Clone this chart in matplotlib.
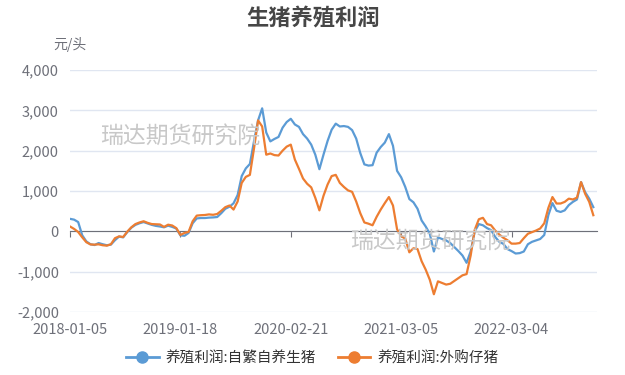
import matplotlib
matplotlib.use("Agg")
import matplotlib.pyplot as plt
from matplotlib.lines import Line2D

plt.rcParams['font.family'] = ['Noto Sans CJK SC', 'DejaVu Sans']

title = "生猪养殖利润"
unit = "元/头"
series_names = ["养殖利润:自繁自养生猪", "养殖利润:外购仔猪"]
tick_labels = ["2018-01-05", "2019-01-18", "2020-02-21", "2021-03-05", "2022-03-04"]
label_step = 27  # points (bi-weekly samples) between labels

self_bred = [310, 290, 230, -100, -250, -320, -340, -290, -320, -345,
             -330, -220, -130, -150, -20, 90, 160, 200, 230, 195,
             160, 135, 120, 100, 140, 110, 70, -100, -110, -40,
             200, 320, 330, 330, 340, 345, 355, 450, 560, 610,
             695, 900, 1370, 1560, 1670, 2230, 2750, 3050, 2450, 2230,
             2290, 2340, 2570, 2710, 2790, 2650, 2590, 2410, 2300, 2150,
             1900, 1540, 1900, 2240, 2520, 2670, 2600, 2610, 2590, 2510,
             2300, 1940, 1660, 1630, 1640, 1950, 2090, 2200, 2410, 2120,
             1500, 1340, 1100, 800, 720, 560, 270, 120, -60, -500,
             -150, -190, -225, -290, -390, -490, -600, -780, -500, 0,
             180, 150, 80, 30, -140, -260, -310, -440, -490, -550,
             -540, -500, -320, -260, -225, -190, -90, 400, 700, 510,
             480, 520, 650, 730, 790, 1220, 970, 810, 600]

purchased = [120, 60, -17, -150, -270, -325, -330, -322, -345, -355,
             -320, -170, -125, -140, -10, 100, 180, 220, 250, 210,
             180, 175, 170, 110, 165, 145, 80, -90, -40, -15,
             250, 390, 400, 405, 420, 410, 430, 510, 600, 640,
             540, 740, 1200, 1350, 1400, 2050, 2750, 2600, 1900, 1930,
             1890, 1880, 2000, 2100, 2150, 1780, 1550, 1310, 1180, 1090,
             830, 520, 880, 1160, 1370, 1400, 1200, 1100, 1015, 980,
             740, 450, 220, 190, 150, 360, 540, 700, 850, 640,
             50, -120, -180, -520, -420, -440, -740, -950, -1200, -1560,
             -1240, -1280, -1320, -1300, -1230, -1160, -1090, -1060, -600, 40,
             300, 335, 180, 150, 20, -80, -160, -220, -305, -305,
             -290, -170, -60, -20, 20, 70, 200, 580, 850, 690,
             690, 730, 810, 790, 835, 1220, 930, 730, 400]

y_ticks = [-2000, -1000, 0, 1000, 2000, 3000, 4000]

colors = ["#5b9bd5", "#ed7d31"]
axis_grey = "#6e7079"
text_grey = "#6e7079"

fig = plt.figure(figsize=(6.25, 3.75), dpi=100)
ax = fig.add_axes([70/625, 1 - 312/375, (597-70)/625, (312-70)/375])

x = list(range(len(self_bred)))
ax.plot(x, self_bred, color=colors[0], lw=1.6, zorder=3)
ax.plot(x, purchased, color=colors[1], lw=1.6, zorder=4)

ax.set_ylim(-2000, 4000)
ax.set_xlim(0, 128.9)
ax.set_yticks(y_ticks)
ax.set_yticklabels([f"{v:,}" for v in y_ticks])
ax.grid(axis='y', color="#e0e6f1", lw=1)
ax.set_axisbelow(True)

for s in ['top', 'right', 'left']:
    ax.spines[s].set_visible(False)
ax.spines['bottom'].set_position(('data', 0))
ax.spines['bottom'].set_color(axis_grey)
ax.spines['bottom'].set_zorder(2)

ticks_pos = [i * label_step for i in range(len(tick_labels))]
ax.set_xticks(ticks_pos)
ax.set_xticklabels(tick_labels)
ax.tick_params(axis='x', direction='out', length=4, color=axis_grey,
               labelsize=10.5, labelcolor=text_grey, pad=62)
ax.tick_params(axis='y', length=0, labelsize=10.5, labelcolor=text_grey, pad=8)

fig.text(313/625, 1 - 18/375, title, ha='center', va='center',
         fontsize=16, fontweight='bold', color='#464646')
fig.text(70/625, 1 - 44/375, unit, ha='center', va='center',
         fontsize=10, color=text_grey)

wm_kw = dict(fontsize=16.5, color='#c8c8c8', ha='left', va='center', zorder=0)
fig.text(100/625, 1 - 137/375, "瑞达期货研究院", **wm_kw)
fig.text(350/625, 1 - 242/375, "瑞达期货研究院", **wm_kw)

handles = [Line2D([0], [0], color=c, lw=2, marker='o', markersize=8,
                  markerfacecolor=c, markeredgecolor=c) for c in colors]
fig.legend(handles, series_names, loc='center', bbox_to_anchor=(0.5, 1 - 358/375),
           ncol=2, frameon=False, fontsize=10.5, handlelength=2.2,
           columnspacing=1.5, handletextpad=0.5, labelcolor='#333333')

fig.savefig("out.png", dpi=100)
